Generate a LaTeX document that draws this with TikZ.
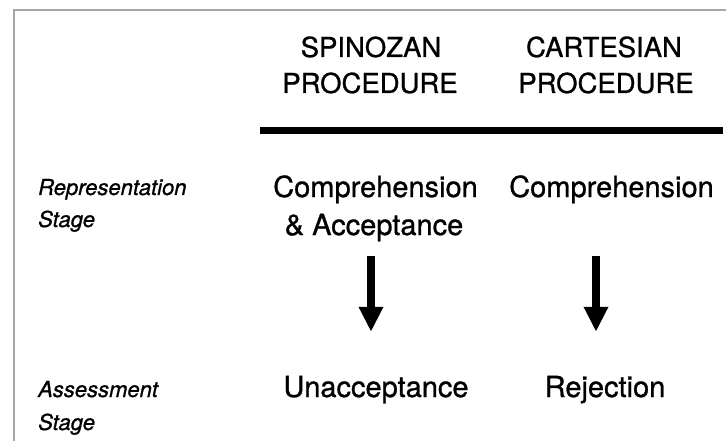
\documentclass[tikz,border=0pt]{standalone}
\usepackage{fontspec}
\setmainfont{TeX Gyre Heros}[FakeBold=0.9]
\usetikzlibrary{arrows.meta}

\begin{document}
\begin{tikzpicture}[x=1pt, y=-1pt,
  head node/.style={anchor=base, inner sep=0pt, font=\fontsize{27.5}{33}\selectfont},
  body node/.style={anchor=base, inner sep=0pt, text height=21pt, text depth=6pt, font=\fontsize{29}{35}\selectfont},
  stage node/.style={anchor=base west, inner sep=0pt, font=\fontsize{22}{26}\selectfont\itshape},
  big arrow/.style={line width=8pt, -{Triangle[width=23pt, length=25pt]}}]
\useasboundingbox (0,0) rectangle (726,441);

% page edge
\draw[black!35, line width=2pt] (726,10) -- (14,10) -- (14,441);

% headings
\node[head node] (sp1) at (371, 57) {SPINOZAN};
\node[head node] (sp2) at (370, 93) {PROCEDURE};

\node[head node] (ca1) at (604, 57) {CARTESIAN};
\node[head node] (ca2) at (606, 93) {PROCEDURE};

% rule
\coordinate (r0) at (260,131);
\coordinate (r1) at (723,131);
\draw[line width=7pt] (r0) -- (r1);

% stages
\node[stage node] (rep1) at (38, 195) {Representation};
\node[stage node] (rep2) at (38, 227) {Stage};

\node[stage node] (ass1) at (38, 397) {Assessment};
\node[stage node] (ass2) at (38, 430) {Stage};

% spinozan
\node[body node] (spc) at (375.5, 197) {Comprehension};
\node[body node] (spa) at (374, 235) {\& Acceptance};
\node[body node] (spu) at (376, 397) {Unacceptance};

% cartesian
\node[body node] (cac) at (611.5, 197) {Comprehension};
\node[body node] (car) at (605, 397) {Rejection};

% arrows
\draw[big arrow, shorten <=15pt, shorten >=44pt] (spa.south -| 371,0) -- (spu.north -| 371,0);
\draw[big arrow, shorten <=53pt, shorten >=44pt] (cac.south -| 596,0) -- (car.north -| 596,0);

\end{tikzpicture}
\end{document}
